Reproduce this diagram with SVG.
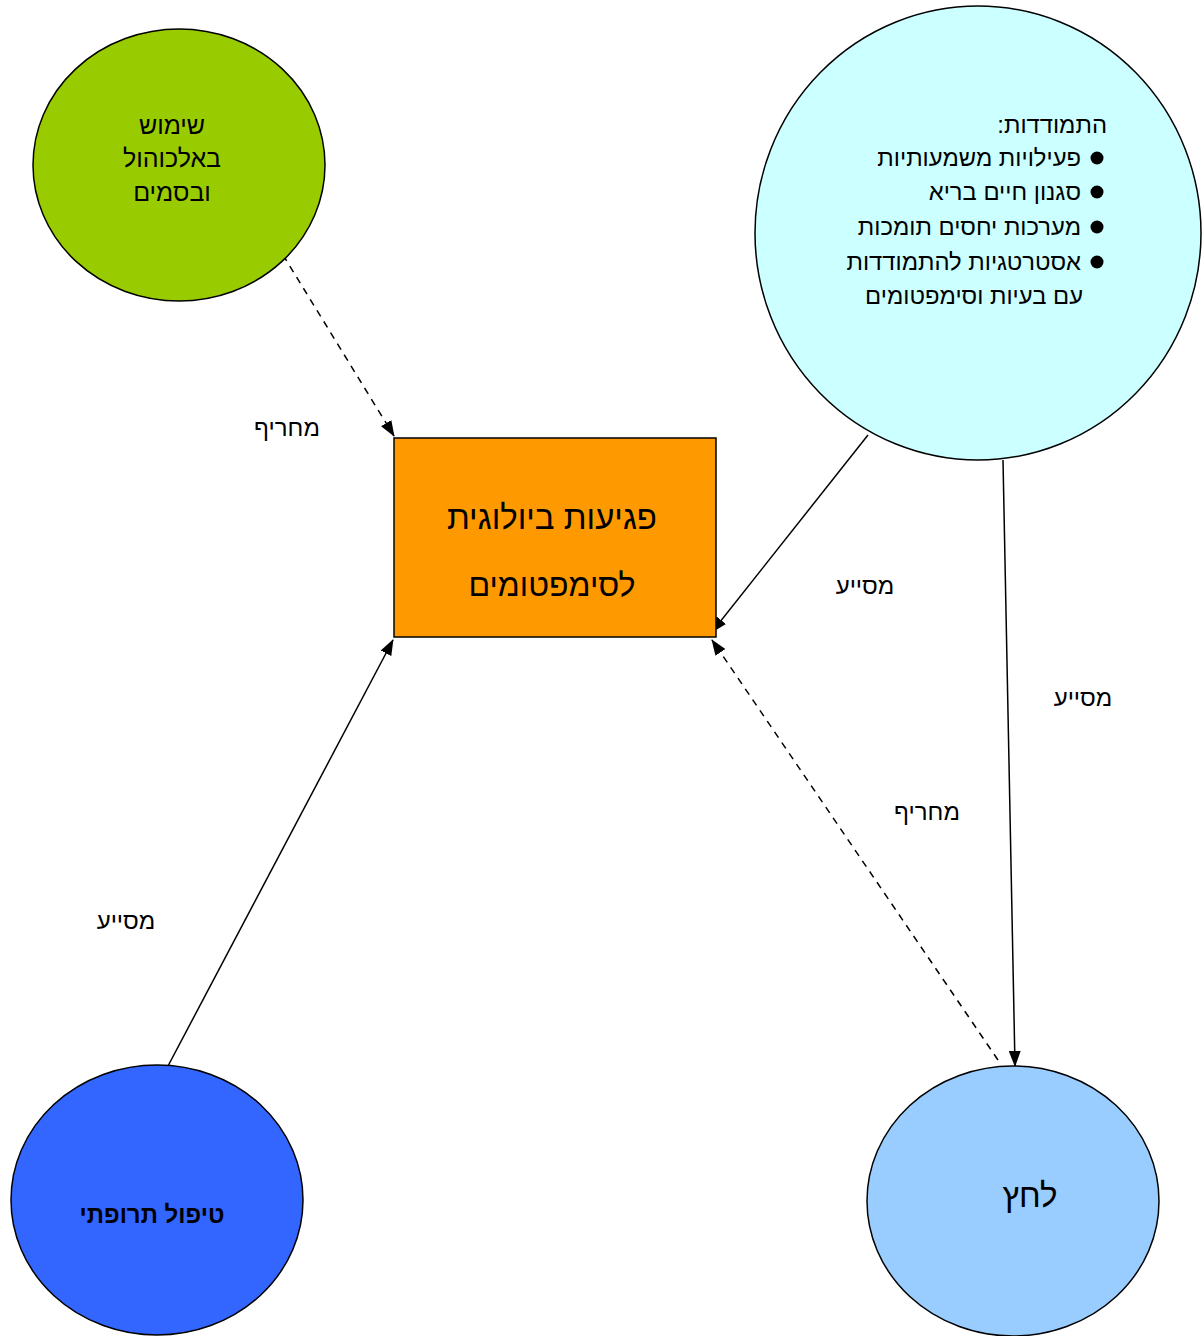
<svg xmlns="http://www.w3.org/2000/svg" width="1204" height="1336" viewBox="0 0 1204 1336">
<style>
text { font-family: "Liberation Sans", "DejaVu Sans", sans-serif; fill: #000; }
.node { stroke: #000; stroke-width: 1.5; }
.lbl { font-size: 24px; text-anchor: middle; }
.c { stroke: #000; stroke-width: 1.5; fill: none; }
.d { stroke-dasharray: 7 6; }
.lst { font-size: 23.8px; direction: rtl; text-anchor: start; }
.bul { fill: #000; }
</style>
<defs>
<marker id="ah" markerUnits="userSpaceOnUse" markerWidth="16" markerHeight="12" refX="15" refY="6" orient="auto">
<path d="M0,0 L16,6 L0,12 Z" fill="#000"/>
</marker>
</defs>
<rect width="1204" height="1336" fill="#fff"/>
<g id="connectors">
<line class="c d" x1="283" y1="255" x2="394" y2="436" marker-end="url(#ah)"/>
<line class="c" x1="868" y1="435" x2="712" y2="632" marker-end="url(#ah)"/>
<line class="c" x1="1003" y1="460" x2="1015" y2="1066" marker-end="url(#ah)"/>
<line class="c d" x1="998" y1="1060" x2="712" y2="640" marker-end="url(#ah)"/>
<line class="c" x1="168" y1="1066" x2="393" y2="640" marker-end="url(#ah)"/>
<text class="lbl" x="287" y="436">מחריף</text>
<text class="lbl" x="865" y="594">מסייע</text>
<text class="lbl" x="1083" y="706">מסייע</text>
<text class="lbl" x="927" y="820">מחריף</text>
<text class="lbl" x="126" y="929">מסייע</text>
</g>
<g id="node-alcohol">
<ellipse class="node" cx="179" cy="165" rx="146" ry="136" fill="#99cc00"/>
<text x="172" y="134" font-size="25" text-anchor="middle">שימוש</text>
<text x="172" y="167" font-size="25" text-anchor="middle">באלכוהול</text>
<text x="172" y="201" font-size="25" text-anchor="middle">ובסמים</text>
</g>
<g id="node-coping">
<ellipse class="node" cx="978" cy="233" rx="223" ry="227" fill="#ccffff"/>
<text class="lst" x="1107" y="133">התמודדות:</text>
<circle class="bul" cx="1097" cy="158" r="6.5"/>
<text class="lst" x="1081" y="166">פעילויות משמעותיות</text>
<circle class="bul" cx="1097" cy="192" r="6.5"/>
<text class="lst" x="1081" y="200">סגנון חיים בריא</text>
<circle class="bul" cx="1097" cy="227" r="6.5"/>
<text class="lst" x="1081" y="235">מערכות יחסים תומכות</text>
<circle class="bul" cx="1097" cy="262" r="6.5"/>
<text class="lst" x="1081" y="270">אסטרטגיות להתמודדות</text>
<text class="lst" x="1083" y="304">עם בעיות וסימפטומים</text>
</g>
<g id="node-vulnerability">
<rect class="node" x="394" y="438" width="322" height="199" fill="#ff9900"/>
<text x="552" y="529" font-size="33" text-anchor="middle">פגיעות ביולוגית</text>
<text x="552" y="596" font-size="32" text-anchor="middle">לסימפטומים</text>
</g>
<g id="node-medication">
<ellipse class="node" cx="157" cy="1200" rx="146" ry="135" fill="#3366ff"/>
<text x="152" y="1223" font-size="24" font-weight="bold" text-anchor="middle">טיפול תרופתי</text>
</g>
<g id="node-stress">
<ellipse class="node" cx="1013" cy="1201" rx="146" ry="135" fill="#99ccff"/>
<text x="1030" y="1207" font-size="33" text-anchor="middle">לחץ</text>
</g>
</svg>
